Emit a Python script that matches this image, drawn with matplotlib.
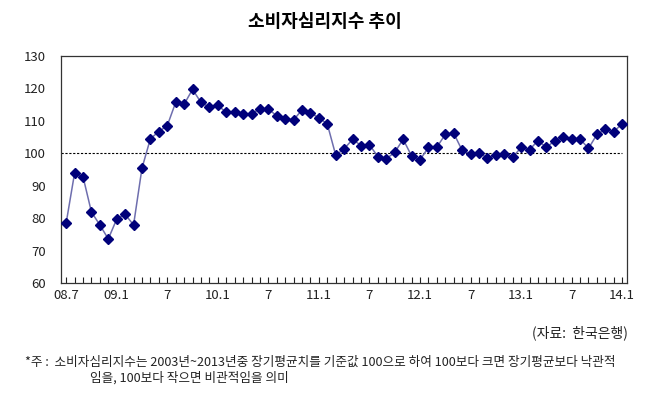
import matplotlib
matplotlib.use("Agg")
import matplotlib.pyplot as plt

plt.rcParams['font.family'] = ['Noto Sans CJK KR', 'DejaVu Sans']

# 2008.7 ~ 2014.1 monthly
csi = [78.5, 93.9, 92.8, 81.9, 77.9, 73.6, 79.7, 81.2, 77.9, 95.4,
       104.5, 106.7, 108.5, 115.7, 115.1, 119.7, 115.7, 114.2, 114.8, 112.6,
       112.6, 112.2, 112.2, 113.7, 113.7, 111.5, 110.6, 110.3, 113.4, 112.3,
       111.0, 109.0, 99.4, 101.4, 104.3, 102.4, 102.6, 99.0, 98.3, 100.3,
       104.3, 99.2, 98.0, 101.8, 101.9, 105.8, 106.2, 100.9, 99.7, 100.2,
       98.5, 99.4, 99.7, 98.8, 101.8, 101.1, 103.9, 101.8, 103.9, 104.9,
       104.4, 104.4, 101.5, 105.8, 107.4, 106.7, 109.1]
tick_labels = ["08.7", "09.1", "7", "10.1", "7", "11.1", "7",
               "12.1", "7", "13.1", "7", "14.1"]
yticks = [60, 70, 80, 90, 100, 110, 120, 130]

x = list(range(len(csi)))

fig = plt.figure(figsize=(6.5, 3.97), dpi=100)
ax = fig.add_axes([0.094, 0.287, 0.871, 0.572])

ax.axhline(100, xmin=0.0, xmax=0.99, color='black', linestyle=(0, (2, 1.5)), linewidth=0.8)
ax.plot(x, csi, color='#6e6eae', linewidth=1.1, zorder=3)
ax.plot(x, csi, linestyle='none', marker='D', markersize=5.3,
        color='#00007a', zorder=4)

ax.set_xlim(-0.6, len(csi) - 0.4)
ax.set_ylim(60, 130)
ax.set_yticks(yticks)
ax.set_xticks(x[::6])
ax.set_xticklabels(tick_labels)
ax.set_xticks(x, minor=True)
ax.tick_params(axis='x', which='both', direction='in', length=4, width=0.8,
               pad=4, labelsize=9.5, colors='#222222')
ax.tick_params(axis='y', length=0, pad=11, labelsize=9.5, colors='#222222')
for s in ax.spines.values():
    s.set_color('#333333')
    s.set_linewidth(0.9)

fig.text(0.5, 0.945, "소비자심리지수 추이", ha='center', va='center',
         fontsize=13, fontweight='bold')
fig.text(0.966, 0.161, "(자료:  한국은행)", ha='right', va='center',
         fontsize=10, color='#222222')
fig.text(0.038, 0.086, "*주 :  소비자심리지수는 2003년~2013년중 장기평균치를 기준값 100으로 하여 100보다 크면 장기평균보다 낙관적",
         ha='left', va='center', fontsize=9.1, color='#222222')
fig.text(0.138, 0.048, "임을, 100보다 작으면 비관적임을 의미",
         ha='left', va='center', fontsize=9.1, color='#222222')

fig.savefig("out.png", dpi=100)
